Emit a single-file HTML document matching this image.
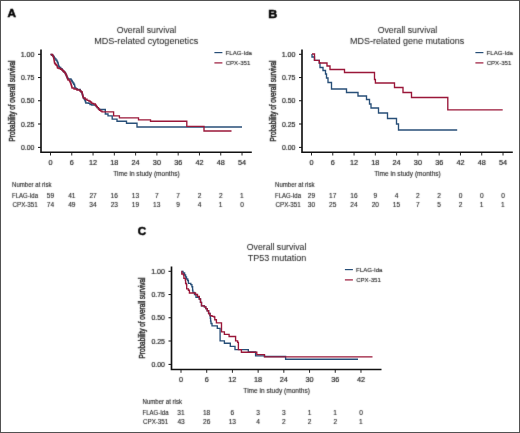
<!DOCTYPE html>
<html><head><meta charset="utf-8"><style>
html,body{margin:0;padding:0;background:#fff;}
svg{display:block;font-family:"Liberation Sans",sans-serif;will-change:transform;}
</style></head><body>
<svg width="520" height="433" viewBox="0 0 520 433">
<defs><filter id="bl" x="0" y="0" width="520" height="433" filterUnits="userSpaceOnUse" color-interpolation-filters="sRGB"><feConvolveMatrix order="3" kernelMatrix="0.01134 0.08382 0.01134 0.08382 0.61935 0.08382 0.01134 0.08382 0.01134" edgeMode="none"/></filter></defs>
<rect x="0" y="0" width="520" height="433" fill="#fff"/>
<path d="M41,49.5V152.2H251.8" fill="none" stroke="#111111" stroke-width="1.65"/>
<path d="M38,54.3H41" stroke="#111111" stroke-width="1"/>
<path d="M38,77.55H41" stroke="#111111" stroke-width="1"/>
<path d="M38,100.75H41" stroke="#111111" stroke-width="1"/>
<path d="M38,124.0H41" stroke="#111111" stroke-width="1"/>
<path d="M38,147.4H41" stroke="#111111" stroke-width="1"/>
<path d="M50.50,152.2V155.5" stroke="#111111" stroke-width="0.9"/>
<path d="M71.78,152.2V155.5" stroke="#111111" stroke-width="0.9"/>
<path d="M93.06,152.2V155.5" stroke="#111111" stroke-width="0.9"/>
<path d="M114.34,152.2V155.5" stroke="#111111" stroke-width="0.9"/>
<path d="M135.62,152.2V155.5" stroke="#111111" stroke-width="0.9"/>
<path d="M156.90,152.2V155.5" stroke="#111111" stroke-width="0.9"/>
<path d="M178.18,152.2V155.5" stroke="#111111" stroke-width="0.9"/>
<path d="M199.46,152.2V155.5" stroke="#111111" stroke-width="0.9"/>
<path d="M220.74,152.2V155.5" stroke="#111111" stroke-width="0.9"/>
<path d="M242.02,152.2V155.5" stroke="#111111" stroke-width="0.9"/>
<path d="M214.4,52.6H222.4" stroke="#284f78" stroke-width="1.2"/>
<path d="M214.4,62.9H222.4" stroke="#9a1739" stroke-width="1.2"/>
<path d="M50.5,54.5H51.75V55.25H53.0V56.0H53.67V57.0H54.33V58.0H55.0V59.0H56.0V60.25H57.0V61.5H57.5V62.5H58.0V63.5H58.25V64.75H58.5V66.0H59.0V66.75H59.5V67.5H60.75V68.75H62.0V70.0H62.75V70.75H63.5V71.5H64.25V72.25H65.0V73.0H65.5V74.0H66.0V75.0H66.5V76.25H67.0V77.5H67.5V78.25H68.0V79.0H71.0V80.0H71.67V81.0H72.33V82.0H73.0V83.0H73.75V84.25H74.5V85.5H74.75V86.75H75.0V88.0H76.0V88.75H77.0V89.5H80.2V90.8H80.9V91.7H81.6V92.6H82.0V93.8H82.4V95.0H82.8V96.2H83.1V97.1H83.4V98.0H83.95V98.75H84.5V99.5H84.93V100.67H85.37V101.83H85.8V103.0H88.5V103.2H90.0V104.5H91.8V105.0H95.4V105.6H96.3V106.6H97.2V107.6H98.4V108.8H99.6V109.5H105.3V114H108V115.8H112.2V119.1H117V121.2H126.5V123.2H137V127H242" fill="none" stroke="#284f78" stroke-width="1.35" stroke-linejoin="miter"/>
<path d="M50.5,54.5H52.5V55.5H53.0V56.5H53.5V57.5H53.75V58.75H54.0V60.0H54.17V61.0H54.33V62.0H54.5V63.0H55.0V63.75H55.5V64.5H56.25V65.25H57.0V66.0H57.25V67.0H57.5V68.0H59.0V68.5H60.5V69.25H62.0V70.0H62.75V70.75H63.5V71.5H64.25V72.25H65.0V73.0H65.5V74.0H66.0V75.0H66.5V76.25H67.0V77.5H67.5V78.75H68.0V80.0H69.5V81.0H70.0V82.0H70.5V83.0H70.83V84.0H71.17V85.0H71.5V86.0H71.75V87.0H72.0V88.0H74.0V89.0H77.0V90.0H80.0V91.0H81.0V91.75H82.0V92.5H82.27V93.73H82.53V94.97H82.8V96.2H83.1V97.1H83.4V98.0H85.2V99.2H87.0V100.4H88.8V101.0H90.0V101.6H90.9V102.5H91.8V103.4H93.6V104.0H95.4V105.2H96.3V106.4H97.2V107.6H98.4V108.8H99.0V109.6H99.6V110.4H100.8V111.1H102.0V111.8H113.6V115.9H119.4V117.9H138.5V119.8H150.5V121.2H186.8V126.3H204V131H231.5" fill="none" stroke="#9a1739" stroke-width="1.35" stroke-linejoin="miter"/>
<path d="M302,49.5V152.2H512.8" fill="none" stroke="#111111" stroke-width="1.65"/>
<path d="M299,54.3H302" stroke="#111111" stroke-width="1"/>
<path d="M299,77.55H302" stroke="#111111" stroke-width="1"/>
<path d="M299,100.75H302" stroke="#111111" stroke-width="1"/>
<path d="M299,124.0H302" stroke="#111111" stroke-width="1"/>
<path d="M299,147.4H302" stroke="#111111" stroke-width="1"/>
<path d="M311.50,152.2V155.5" stroke="#111111" stroke-width="0.9"/>
<path d="M332.78,152.2V155.5" stroke="#111111" stroke-width="0.9"/>
<path d="M354.06,152.2V155.5" stroke="#111111" stroke-width="0.9"/>
<path d="M375.34,152.2V155.5" stroke="#111111" stroke-width="0.9"/>
<path d="M396.62,152.2V155.5" stroke="#111111" stroke-width="0.9"/>
<path d="M417.90,152.2V155.5" stroke="#111111" stroke-width="0.9"/>
<path d="M439.18,152.2V155.5" stroke="#111111" stroke-width="0.9"/>
<path d="M460.46,152.2V155.5" stroke="#111111" stroke-width="0.9"/>
<path d="M481.74,152.2V155.5" stroke="#111111" stroke-width="0.9"/>
<path d="M503.02,152.2V155.5" stroke="#111111" stroke-width="0.9"/>
<path d="M475.4,52.6H483.4" stroke="#284f78" stroke-width="1.2"/>
<path d="M475.4,62.9H483.4" stroke="#9a1739" stroke-width="1.2"/>
<path d="M312,54H312V57H314.5V60.3H319.3V63H320V67.5H323V70.5H325.5V74H326.5V78H328V82.5H331.5V89H346.5V92.5H358V96H366.5V99.5H369.5V104H371V108H378.5V113H387.5V118.5H396.5V124H398.5V130H457.2" fill="none" stroke="#284f78" stroke-width="1.35" stroke-linejoin="miter"/>
<path d="M312,54H314.5V60.3H319.3V63H327V66H330V69.5H344.5V72.5H374.5V79.5H375.4V83H394.5V87.5H403V92.5H411.5V97.5H447.8V109.9H502.7" fill="none" stroke="#9a1739" stroke-width="1.35" stroke-linejoin="miter"/>
<path d="M171.5,266.5V369.5H381.5" fill="none" stroke="#111111" stroke-width="1.65"/>
<path d="M168.5,271.3H171.5" stroke="#111111" stroke-width="1"/>
<path d="M168.5,294.55H171.5" stroke="#111111" stroke-width="1"/>
<path d="M168.5,317.75H171.5" stroke="#111111" stroke-width="1"/>
<path d="M168.5,341.0H171.5" stroke="#111111" stroke-width="1"/>
<path d="M168.5,364.4H171.5" stroke="#111111" stroke-width="1"/>
<path d="M181.00,369.5V372.8" stroke="#111111" stroke-width="0.9"/>
<path d="M206.71,369.5V372.8" stroke="#111111" stroke-width="0.9"/>
<path d="M232.42,369.5V372.8" stroke="#111111" stroke-width="0.9"/>
<path d="M258.13,369.5V372.8" stroke="#111111" stroke-width="0.9"/>
<path d="M283.84,369.5V372.8" stroke="#111111" stroke-width="0.9"/>
<path d="M309.55,369.5V372.8" stroke="#111111" stroke-width="0.9"/>
<path d="M335.26,369.5V372.8" stroke="#111111" stroke-width="0.9"/>
<path d="M360.97,369.5V372.8" stroke="#111111" stroke-width="0.9"/>
<path d="M344.9,269.6H352.9" stroke="#284f78" stroke-width="1.2"/>
<path d="M344.9,279.9H352.9" stroke="#9a1739" stroke-width="1.2"/>
<path d="M181.5,271.5H183V273H184.6V275H185.6V277H186.5V279H187.7V280.5H188.4V283.3H190.8V284.6H191.9V286.7H192.6V290.2H192.9V292.3H194.5V294.5H196V297.3H199.3V299H200.5V302.4H201.5V305.9H204.4V306.8H205.8V308.6H207.2V310.7H208.6V313.5H210V315.6H210.3V318.4H210.6V321.1H211V323.5H212V325.9H217.3V328.3H220.1V340.9H224.4V343.2H230.3V346.4H235V349.6H248.3V352H255.6V355.8H264.5V356.5H285.6V359.2H358" fill="none" stroke="#284f78" stroke-width="1.35" stroke-linejoin="miter"/>
<path d="M181.5,271.5H181.8V274H183.5V275H183.9V278.4H185.3V280H185.6V283.3H186.3V284.6H186.7V288.8H188.4V290.2H189.4V293H195.5V294.5H197.5V296.3H199.3V299H200.5V302.4H201.5V305.9H204.4V306.8H205.8V308.6H207.2V310.7H208.6V313.5H210V315.6H212V316.3H214.1V317H214.8V319.7H216.4V322.8H221.5V331.8H224.4V334.4H229.1V336.5H235.6V340.9H237.6V342.4H238.4V349.6H241.4V352.2H256.8V354.6H264.5V356.8H372.5" fill="none" stroke="#9a1739" stroke-width="1.35" stroke-linejoin="miter"/>
<g filter="url(#bl)">
<text x="7.46" y="17.30" font-size="11.6" font-weight="bold" textLength="8.50" lengthAdjust="spacingAndGlyphs" fill="#000" stroke="#000" stroke-width="0.5">A</text>
<text x="116.69" y="32.50" font-size="9.6" textLength="59.59" lengthAdjust="spacingAndGlyphs" fill="#262626" stroke="#262626" stroke-width="0.05">Overall survival</text>
<text x="94.15" y="43.60" font-size="9.6" textLength="104.08" lengthAdjust="spacingAndGlyphs" fill="#262626" stroke="#262626" stroke-width="0.05">MDS-related cytogenetics</text>
<text x="20.66" y="56.80" font-size="7.1" textLength="13.82" lengthAdjust="spacingAndGlyphs" fill="#262626" stroke="#262626" stroke-width="0.2">1.00</text>
<text x="20.93" y="80.05" font-size="7.1" textLength="13.57" lengthAdjust="spacingAndGlyphs" fill="#262626" stroke="#262626" stroke-width="0.2">0.75</text>
<text x="20.93" y="103.25" font-size="7.1" textLength="13.54" lengthAdjust="spacingAndGlyphs" fill="#262626" stroke="#262626" stroke-width="0.2">0.50</text>
<text x="20.93" y="126.50" font-size="7.1" textLength="13.57" lengthAdjust="spacingAndGlyphs" fill="#262626" stroke="#262626" stroke-width="0.2">0.25</text>
<text x="20.93" y="149.90" font-size="7.1" textLength="13.54" lengthAdjust="spacingAndGlyphs" fill="#262626" stroke="#262626" stroke-width="0.2">0.00</text>
<text x="48.47" y="165.00" font-size="7.3" textLength="4.06" lengthAdjust="spacingAndGlyphs" fill="#262626" stroke="#262626" stroke-width="0.2">0</text>
<text x="69.73" y="165.00" font-size="7.3" textLength="4.06" lengthAdjust="spacingAndGlyphs" fill="#262626" stroke="#262626" stroke-width="0.2">6</text>
<text x="88.91" y="165.00" font-size="7.3" textLength="8.12" lengthAdjust="spacingAndGlyphs" fill="#262626" stroke="#262626" stroke-width="0.2">12</text>
<text x="110.16" y="165.00" font-size="7.3" textLength="8.12" lengthAdjust="spacingAndGlyphs" fill="#262626" stroke="#262626" stroke-width="0.2">18</text>
<text x="131.48" y="165.00" font-size="7.3" textLength="8.12" lengthAdjust="spacingAndGlyphs" fill="#262626" stroke="#262626" stroke-width="0.2">24</text>
<text x="152.84" y="165.00" font-size="7.3" textLength="8.12" lengthAdjust="spacingAndGlyphs" fill="#262626" stroke="#262626" stroke-width="0.2">30</text>
<text x="174.14" y="165.00" font-size="7.3" textLength="8.12" lengthAdjust="spacingAndGlyphs" fill="#262626" stroke="#262626" stroke-width="0.2">36</text>
<text x="195.50" y="165.00" font-size="7.3" textLength="8.12" lengthAdjust="spacingAndGlyphs" fill="#262626" stroke="#262626" stroke-width="0.2">42</text>
<text x="216.75" y="165.00" font-size="7.3" textLength="8.12" lengthAdjust="spacingAndGlyphs" fill="#262626" stroke="#262626" stroke-width="0.2">48</text>
<text x="237.92" y="165.00" font-size="7.3" textLength="8.12" lengthAdjust="spacingAndGlyphs" fill="#262626" stroke="#262626" stroke-width="0.2">54</text>
<text x="113.26" y="175.70" font-size="7" textLength="66.55" lengthAdjust="spacingAndGlyphs" fill="#262626" stroke="#262626" stroke-width="0.12">Time in study (months)</text>
<g transform="translate(14.5,140.9) rotate(-90)"><text x="-0.52" y="0.00" font-size="8.4" textLength="80.95" lengthAdjust="spacingAndGlyphs" fill="#262626" stroke="#262626" stroke-width="0.42">Probability of overall survival</text></g>
<text x="225.50" y="54.60" font-size="6.15" textLength="26.50" lengthAdjust="spacingAndGlyphs" fill="#262626" stroke="#262626" stroke-width="0.12">FLAG-Ida</text>
<text x="225.69" y="64.80" font-size="6.15" textLength="24.60" lengthAdjust="spacingAndGlyphs" fill="#262626" stroke="#262626" stroke-width="0.12">CPX-351</text>
<text x="12.00" y="186.50" font-size="6.3" textLength="39.49" lengthAdjust="spacingAndGlyphs" fill="#262626" stroke="#262626" stroke-width="0.12">Number at risk</text>
<text x="12.01" y="197.50" font-size="6.3" textLength="25.99" lengthAdjust="spacingAndGlyphs" fill="#262626" stroke="#262626" stroke-width="0.12">FLAG-Ida</text>
<text x="12.48" y="206.50" font-size="6.3" textLength="25.32" lengthAdjust="spacingAndGlyphs" fill="#262626" stroke="#262626" stroke-width="0.12">CPX-351</text>
<text x="46.85" y="197.50" font-size="6.6" textLength="7.34" lengthAdjust="spacingAndGlyphs" fill="#262626" stroke="#262626" stroke-width="0.12">59</text>
<text x="68.20" y="197.50" font-size="6.6" textLength="7.34" lengthAdjust="spacingAndGlyphs" fill="#262626" stroke="#262626" stroke-width="0.12">41</text>
<text x="89.39" y="197.50" font-size="6.6" textLength="7.34" lengthAdjust="spacingAndGlyphs" fill="#262626" stroke="#262626" stroke-width="0.12">27</text>
<text x="110.56" y="197.50" font-size="6.6" textLength="7.34" lengthAdjust="spacingAndGlyphs" fill="#262626" stroke="#262626" stroke-width="0.12">16</text>
<text x="131.84" y="197.50" font-size="6.6" textLength="7.34" lengthAdjust="spacingAndGlyphs" fill="#262626" stroke="#262626" stroke-width="0.12">13</text>
<text x="155.06" y="197.50" font-size="6.6" textLength="3.67" lengthAdjust="spacingAndGlyphs" fill="#262626" stroke="#262626" stroke-width="0.12">7</text>
<text x="176.34" y="197.50" font-size="6.6" textLength="3.67" lengthAdjust="spacingAndGlyphs" fill="#262626" stroke="#262626" stroke-width="0.12">7</text>
<text x="197.63" y="197.50" font-size="6.6" textLength="3.67" lengthAdjust="spacingAndGlyphs" fill="#262626" stroke="#262626" stroke-width="0.12">2</text>
<text x="218.91" y="197.50" font-size="6.6" textLength="3.67" lengthAdjust="spacingAndGlyphs" fill="#262626" stroke="#262626" stroke-width="0.12">2</text>
<text x="240.10" y="197.50" font-size="6.6" textLength="3.67" lengthAdjust="spacingAndGlyphs" fill="#262626" stroke="#262626" stroke-width="0.12">1</text>
<text x="46.76" y="206.50" font-size="6.6" textLength="7.34" lengthAdjust="spacingAndGlyphs" fill="#262626" stroke="#262626" stroke-width="0.12">74</text>
<text x="68.19" y="206.50" font-size="6.6" textLength="7.34" lengthAdjust="spacingAndGlyphs" fill="#262626" stroke="#262626" stroke-width="0.12">49</text>
<text x="89.36" y="206.50" font-size="6.6" textLength="7.34" lengthAdjust="spacingAndGlyphs" fill="#262626" stroke="#262626" stroke-width="0.12">34</text>
<text x="110.65" y="206.50" font-size="6.6" textLength="7.34" lengthAdjust="spacingAndGlyphs" fill="#262626" stroke="#262626" stroke-width="0.12">23</text>
<text x="131.85" y="206.50" font-size="6.6" textLength="7.34" lengthAdjust="spacingAndGlyphs" fill="#262626" stroke="#262626" stroke-width="0.12">19</text>
<text x="153.12" y="206.50" font-size="6.6" textLength="7.34" lengthAdjust="spacingAndGlyphs" fill="#262626" stroke="#262626" stroke-width="0.12">13</text>
<text x="176.35" y="206.50" font-size="6.6" textLength="3.67" lengthAdjust="spacingAndGlyphs" fill="#262626" stroke="#262626" stroke-width="0.12">9</text>
<text x="197.65" y="206.50" font-size="6.6" textLength="3.67" lengthAdjust="spacingAndGlyphs" fill="#262626" stroke="#262626" stroke-width="0.12">4</text>
<text x="218.82" y="206.50" font-size="6.6" textLength="3.67" lengthAdjust="spacingAndGlyphs" fill="#262626" stroke="#262626" stroke-width="0.12">1</text>
<text x="240.19" y="206.50" font-size="6.6" textLength="3.67" lengthAdjust="spacingAndGlyphs" fill="#262626" stroke="#262626" stroke-width="0.12">0</text>
<text x="268.32" y="17.60" font-size="11.6" font-weight="bold" textLength="9.00" lengthAdjust="spacingAndGlyphs" fill="#000" stroke="#000" stroke-width="0.5">B</text>
<text x="377.69" y="32.50" font-size="9.6" textLength="59.59" lengthAdjust="spacingAndGlyphs" fill="#262626" stroke="#262626" stroke-width="0.05">Overall survival</text>
<text x="350.06" y="43.60" font-size="9.6" textLength="114.26" lengthAdjust="spacingAndGlyphs" fill="#262626" stroke="#262626" stroke-width="0.05">MDS-related gene mutations</text>
<text x="281.66" y="56.80" font-size="7.1" textLength="13.82" lengthAdjust="spacingAndGlyphs" fill="#262626" stroke="#262626" stroke-width="0.2">1.00</text>
<text x="281.93" y="80.05" font-size="7.1" textLength="13.57" lengthAdjust="spacingAndGlyphs" fill="#262626" stroke="#262626" stroke-width="0.2">0.75</text>
<text x="281.93" y="103.25" font-size="7.1" textLength="13.54" lengthAdjust="spacingAndGlyphs" fill="#262626" stroke="#262626" stroke-width="0.2">0.50</text>
<text x="281.93" y="126.50" font-size="7.1" textLength="13.57" lengthAdjust="spacingAndGlyphs" fill="#262626" stroke="#262626" stroke-width="0.2">0.25</text>
<text x="281.93" y="149.90" font-size="7.1" textLength="13.54" lengthAdjust="spacingAndGlyphs" fill="#262626" stroke="#262626" stroke-width="0.2">0.00</text>
<text x="309.47" y="165.00" font-size="7.3" textLength="4.06" lengthAdjust="spacingAndGlyphs" fill="#262626" stroke="#262626" stroke-width="0.2">0</text>
<text x="330.73" y="165.00" font-size="7.3" textLength="4.06" lengthAdjust="spacingAndGlyphs" fill="#262626" stroke="#262626" stroke-width="0.2">6</text>
<text x="349.91" y="165.00" font-size="7.3" textLength="8.12" lengthAdjust="spacingAndGlyphs" fill="#262626" stroke="#262626" stroke-width="0.2">12</text>
<text x="371.16" y="165.00" font-size="7.3" textLength="8.12" lengthAdjust="spacingAndGlyphs" fill="#262626" stroke="#262626" stroke-width="0.2">18</text>
<text x="392.48" y="165.00" font-size="7.3" textLength="8.12" lengthAdjust="spacingAndGlyphs" fill="#262626" stroke="#262626" stroke-width="0.2">24</text>
<text x="413.84" y="165.00" font-size="7.3" textLength="8.12" lengthAdjust="spacingAndGlyphs" fill="#262626" stroke="#262626" stroke-width="0.2">30</text>
<text x="435.14" y="165.00" font-size="7.3" textLength="8.12" lengthAdjust="spacingAndGlyphs" fill="#262626" stroke="#262626" stroke-width="0.2">36</text>
<text x="456.50" y="165.00" font-size="7.3" textLength="8.12" lengthAdjust="spacingAndGlyphs" fill="#262626" stroke="#262626" stroke-width="0.2">42</text>
<text x="477.75" y="165.00" font-size="7.3" textLength="8.12" lengthAdjust="spacingAndGlyphs" fill="#262626" stroke="#262626" stroke-width="0.2">48</text>
<text x="498.92" y="165.00" font-size="7.3" textLength="8.12" lengthAdjust="spacingAndGlyphs" fill="#262626" stroke="#262626" stroke-width="0.2">54</text>
<text x="374.26" y="175.70" font-size="7" textLength="66.55" lengthAdjust="spacingAndGlyphs" fill="#262626" stroke="#262626" stroke-width="0.12">Time in study (months)</text>
<g transform="translate(275.5,140.9) rotate(-90)"><text x="-0.52" y="0.00" font-size="8.4" textLength="80.95" lengthAdjust="spacingAndGlyphs" fill="#262626" stroke="#262626" stroke-width="0.42">Probability of overall survival</text></g>
<text x="486.50" y="54.60" font-size="6.15" textLength="26.50" lengthAdjust="spacingAndGlyphs" fill="#262626" stroke="#262626" stroke-width="0.12">FLAG-Ida</text>
<text x="486.69" y="64.80" font-size="6.15" textLength="24.60" lengthAdjust="spacingAndGlyphs" fill="#262626" stroke="#262626" stroke-width="0.12">CPX-351</text>
<text x="275.00" y="186.50" font-size="6.3" textLength="39.49" lengthAdjust="spacingAndGlyphs" fill="#262626" stroke="#262626" stroke-width="0.12">Number at risk</text>
<text x="275.01" y="197.50" font-size="6.3" textLength="25.99" lengthAdjust="spacingAndGlyphs" fill="#262626" stroke="#262626" stroke-width="0.12">FLAG-Ida</text>
<text x="275.48" y="206.50" font-size="6.3" textLength="25.32" lengthAdjust="spacingAndGlyphs" fill="#262626" stroke="#262626" stroke-width="0.12">CPX-351</text>
<text x="307.82" y="197.50" font-size="6.6" textLength="7.34" lengthAdjust="spacingAndGlyphs" fill="#262626" stroke="#262626" stroke-width="0.12">29</text>
<text x="329.02" y="197.50" font-size="6.6" textLength="7.34" lengthAdjust="spacingAndGlyphs" fill="#262626" stroke="#262626" stroke-width="0.12">17</text>
<text x="350.28" y="197.50" font-size="6.6" textLength="7.34" lengthAdjust="spacingAndGlyphs" fill="#262626" stroke="#262626" stroke-width="0.12">16</text>
<text x="373.51" y="197.50" font-size="6.6" textLength="3.67" lengthAdjust="spacingAndGlyphs" fill="#262626" stroke="#262626" stroke-width="0.12">9</text>
<text x="394.81" y="197.50" font-size="6.6" textLength="3.67" lengthAdjust="spacingAndGlyphs" fill="#262626" stroke="#262626" stroke-width="0.12">4</text>
<text x="416.07" y="197.50" font-size="6.6" textLength="3.67" lengthAdjust="spacingAndGlyphs" fill="#262626" stroke="#262626" stroke-width="0.12">2</text>
<text x="437.35" y="197.50" font-size="6.6" textLength="3.67" lengthAdjust="spacingAndGlyphs" fill="#262626" stroke="#262626" stroke-width="0.12">2</text>
<text x="458.63" y="197.50" font-size="6.6" textLength="3.67" lengthAdjust="spacingAndGlyphs" fill="#262626" stroke="#262626" stroke-width="0.12">0</text>
<text x="479.91" y="197.50" font-size="6.6" textLength="3.67" lengthAdjust="spacingAndGlyphs" fill="#262626" stroke="#262626" stroke-width="0.12">0</text>
<text x="501.19" y="197.50" font-size="6.6" textLength="3.67" lengthAdjust="spacingAndGlyphs" fill="#262626" stroke="#262626" stroke-width="0.12">0</text>
<text x="307.83" y="206.50" font-size="6.6" textLength="7.34" lengthAdjust="spacingAndGlyphs" fill="#262626" stroke="#262626" stroke-width="0.12">30</text>
<text x="329.08" y="206.50" font-size="6.6" textLength="7.34" lengthAdjust="spacingAndGlyphs" fill="#262626" stroke="#262626" stroke-width="0.12">25</text>
<text x="350.32" y="206.50" font-size="6.6" textLength="7.34" lengthAdjust="spacingAndGlyphs" fill="#262626" stroke="#262626" stroke-width="0.12">24</text>
<text x="371.63" y="206.50" font-size="6.6" textLength="7.34" lengthAdjust="spacingAndGlyphs" fill="#262626" stroke="#262626" stroke-width="0.12">20</text>
<text x="392.84" y="206.50" font-size="6.6" textLength="7.34" lengthAdjust="spacingAndGlyphs" fill="#262626" stroke="#262626" stroke-width="0.12">15</text>
<text x="416.06" y="206.50" font-size="6.6" textLength="3.67" lengthAdjust="spacingAndGlyphs" fill="#262626" stroke="#262626" stroke-width="0.12">7</text>
<text x="437.35" y="206.50" font-size="6.6" textLength="3.67" lengthAdjust="spacingAndGlyphs" fill="#262626" stroke="#262626" stroke-width="0.12">5</text>
<text x="458.63" y="206.50" font-size="6.6" textLength="3.67" lengthAdjust="spacingAndGlyphs" fill="#262626" stroke="#262626" stroke-width="0.12">2</text>
<text x="479.82" y="206.50" font-size="6.6" textLength="3.67" lengthAdjust="spacingAndGlyphs" fill="#262626" stroke="#262626" stroke-width="0.12">1</text>
<text x="501.10" y="206.50" font-size="6.6" textLength="3.67" lengthAdjust="spacingAndGlyphs" fill="#262626" stroke="#262626" stroke-width="0.12">1</text>
<text x="137.87" y="235.30" font-size="11.6" font-weight="bold" textLength="8.39" lengthAdjust="spacingAndGlyphs" fill="#000" stroke="#000" stroke-width="0.5">C</text>
<text x="246.79" y="249.50" font-size="9.6" textLength="59.59" lengthAdjust="spacingAndGlyphs" fill="#262626" stroke="#262626" stroke-width="0.05">Overall survival</text>
<text x="247.85" y="260.60" font-size="9.6" textLength="58.49" lengthAdjust="spacingAndGlyphs" fill="#262626" stroke="#262626" stroke-width="0.05">TP53 mutation</text>
<text x="151.16" y="273.80" font-size="7.1" textLength="13.82" lengthAdjust="spacingAndGlyphs" fill="#262626" stroke="#262626" stroke-width="0.2">1.00</text>
<text x="151.43" y="297.05" font-size="7.1" textLength="13.57" lengthAdjust="spacingAndGlyphs" fill="#262626" stroke="#262626" stroke-width="0.2">0.75</text>
<text x="151.43" y="320.25" font-size="7.1" textLength="13.54" lengthAdjust="spacingAndGlyphs" fill="#262626" stroke="#262626" stroke-width="0.2">0.50</text>
<text x="151.43" y="343.50" font-size="7.1" textLength="13.57" lengthAdjust="spacingAndGlyphs" fill="#262626" stroke="#262626" stroke-width="0.2">0.25</text>
<text x="151.43" y="366.90" font-size="7.1" textLength="13.54" lengthAdjust="spacingAndGlyphs" fill="#262626" stroke="#262626" stroke-width="0.2">0.00</text>
<text x="178.97" y="382.00" font-size="7.3" textLength="4.06" lengthAdjust="spacingAndGlyphs" fill="#262626" stroke="#262626" stroke-width="0.2">0</text>
<text x="204.66" y="382.00" font-size="7.3" textLength="4.06" lengthAdjust="spacingAndGlyphs" fill="#262626" stroke="#262626" stroke-width="0.2">6</text>
<text x="228.27" y="382.00" font-size="7.3" textLength="8.12" lengthAdjust="spacingAndGlyphs" fill="#262626" stroke="#262626" stroke-width="0.2">12</text>
<text x="253.95" y="382.00" font-size="7.3" textLength="8.12" lengthAdjust="spacingAndGlyphs" fill="#262626" stroke="#262626" stroke-width="0.2">18</text>
<text x="279.70" y="382.00" font-size="7.3" textLength="8.12" lengthAdjust="spacingAndGlyphs" fill="#262626" stroke="#262626" stroke-width="0.2">24</text>
<text x="305.49" y="382.00" font-size="7.3" textLength="8.12" lengthAdjust="spacingAndGlyphs" fill="#262626" stroke="#262626" stroke-width="0.2">30</text>
<text x="331.22" y="382.00" font-size="7.3" textLength="8.12" lengthAdjust="spacingAndGlyphs" fill="#262626" stroke="#262626" stroke-width="0.2">36</text>
<text x="357.01" y="382.00" font-size="7.3" textLength="8.12" lengthAdjust="spacingAndGlyphs" fill="#262626" stroke="#262626" stroke-width="0.2">42</text>
<text x="243.36" y="392.70" font-size="7" textLength="66.55" lengthAdjust="spacingAndGlyphs" fill="#262626" stroke="#262626" stroke-width="0.12">Time in study (months)</text>
<g transform="translate(145.0,357.9) rotate(-90)"><text x="-0.52" y="0.00" font-size="8.4" textLength="80.95" lengthAdjust="spacingAndGlyphs" fill="#262626" stroke="#262626" stroke-width="0.42">Probability of overall survival</text></g>
<text x="356.00" y="271.60" font-size="6.15" textLength="26.50" lengthAdjust="spacingAndGlyphs" fill="#262626" stroke="#262626" stroke-width="0.12">FLAG-Ida</text>
<text x="356.19" y="281.80" font-size="6.15" textLength="24.60" lengthAdjust="spacingAndGlyphs" fill="#262626" stroke="#262626" stroke-width="0.12">CPX-351</text>
<text x="142.50" y="403.50" font-size="6.3" textLength="39.49" lengthAdjust="spacingAndGlyphs" fill="#262626" stroke="#262626" stroke-width="0.12">Number at risk</text>
<text x="142.51" y="414.50" font-size="6.3" textLength="25.99" lengthAdjust="spacingAndGlyphs" fill="#262626" stroke="#262626" stroke-width="0.12">FLAG-Ida</text>
<text x="142.98" y="423.50" font-size="6.3" textLength="25.32" lengthAdjust="spacingAndGlyphs" fill="#262626" stroke="#262626" stroke-width="0.12">CPX-351</text>
<text x="177.37" y="414.50" font-size="6.6" textLength="7.34" lengthAdjust="spacingAndGlyphs" fill="#262626" stroke="#262626" stroke-width="0.12">31</text>
<text x="202.93" y="414.50" font-size="6.6" textLength="7.34" lengthAdjust="spacingAndGlyphs" fill="#262626" stroke="#262626" stroke-width="0.12">18</text>
<text x="230.56" y="414.50" font-size="6.6" textLength="3.67" lengthAdjust="spacingAndGlyphs" fill="#262626" stroke="#262626" stroke-width="0.12">6</text>
<text x="256.31" y="414.50" font-size="6.6" textLength="3.67" lengthAdjust="spacingAndGlyphs" fill="#262626" stroke="#262626" stroke-width="0.12">3</text>
<text x="282.02" y="414.50" font-size="6.6" textLength="3.67" lengthAdjust="spacingAndGlyphs" fill="#262626" stroke="#262626" stroke-width="0.12">3</text>
<text x="307.63" y="414.50" font-size="6.6" textLength="3.67" lengthAdjust="spacingAndGlyphs" fill="#262626" stroke="#262626" stroke-width="0.12">1</text>
<text x="333.34" y="414.50" font-size="6.6" textLength="3.67" lengthAdjust="spacingAndGlyphs" fill="#262626" stroke="#262626" stroke-width="0.12">1</text>
<text x="359.14" y="414.50" font-size="6.6" textLength="3.67" lengthAdjust="spacingAndGlyphs" fill="#262626" stroke="#262626" stroke-width="0.12">0</text>
<text x="177.40" y="423.50" font-size="6.6" textLength="7.34" lengthAdjust="spacingAndGlyphs" fill="#262626" stroke="#262626" stroke-width="0.12">43</text>
<text x="203.02" y="423.50" font-size="6.6" textLength="7.34" lengthAdjust="spacingAndGlyphs" fill="#262626" stroke="#262626" stroke-width="0.12">26</text>
<text x="228.64" y="423.50" font-size="6.6" textLength="7.34" lengthAdjust="spacingAndGlyphs" fill="#262626" stroke="#262626" stroke-width="0.12">13</text>
<text x="256.31" y="423.50" font-size="6.6" textLength="3.67" lengthAdjust="spacingAndGlyphs" fill="#262626" stroke="#262626" stroke-width="0.12">4</text>
<text x="282.01" y="423.50" font-size="6.6" textLength="3.67" lengthAdjust="spacingAndGlyphs" fill="#262626" stroke="#262626" stroke-width="0.12">2</text>
<text x="307.72" y="423.50" font-size="6.6" textLength="3.67" lengthAdjust="spacingAndGlyphs" fill="#262626" stroke="#262626" stroke-width="0.12">2</text>
<text x="333.43" y="423.50" font-size="6.6" textLength="3.67" lengthAdjust="spacingAndGlyphs" fill="#262626" stroke="#262626" stroke-width="0.12">2</text>
<text x="359.05" y="423.50" font-size="6.6" textLength="3.67" lengthAdjust="spacingAndGlyphs" fill="#262626" stroke="#262626" stroke-width="0.12">1</text>
</g>
<rect x="0.5" y="0.5" width="519" height="432" fill="none" stroke="#525252" stroke-width="1"/>
</svg>
</body></html>
